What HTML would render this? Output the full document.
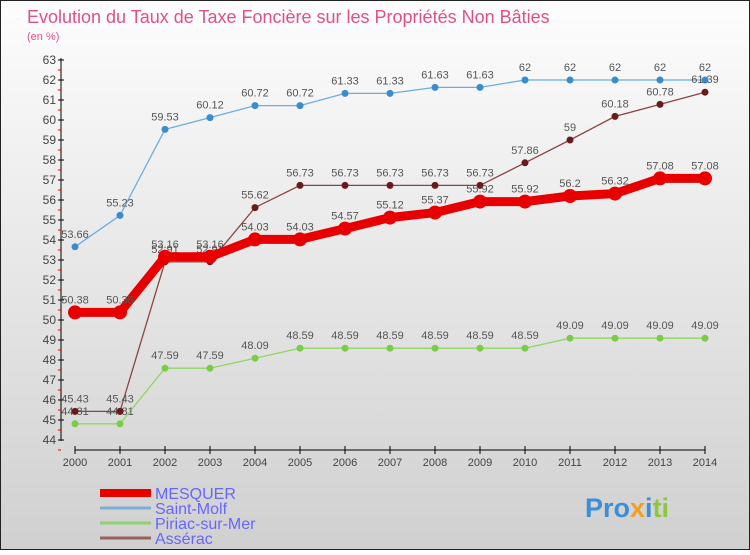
<!DOCTYPE html>
<html><head><meta charset="utf-8"><style>
body{margin:0}
svg text{font-family:"Liberation Sans",sans-serif}
</style></head><body>
<svg id="c" width="750" height="550" xmlns="http://www.w3.org/2000/svg">
<defs><linearGradient id="bg" x1="0" y1="0" x2="0" y2="1"><stop offset="0" stop-color="#fdfdfd"/><stop offset="1" stop-color="#d0d0d0"/></linearGradient></defs>
<rect x="0.5" y="0.5" width="749" height="549" fill="url(#bg)" stroke="#222"/>
<text x="27" y="23" font-size="18" fill="#e0508a">Evolution du Taux de Taxe Foncière sur les Propriétés Non Bâties</text>
<text x="27" y="40" font-size="11" fill="#e0508a">(en %)</text>
<g id="axes"></g><g id="series"></g><g id="legend"></g>
<text x="585" y="517" font-size="27" font-weight="bold" fill="#3a8fd8">Pro<tspan fill="#f0a020">x</tspan><tspan fill="#3a8fd8">i</tspan><tspan fill="#8cc83c">ti</tspan></text>
</svg>
<script>
const years=[2000,2001,2002,2003,2004,2005,2006,2007,2008,2009,2010,2011,2012,2013,2014];
const mesquer=[50.38,50.38,53.16,53.16,54.03,54.03,54.57,55.12,55.37,55.92,55.92,56.2,56.32,57.08,57.08];
const saintMolf=[53.66,55.23,59.53,60.12,60.72,60.72,61.33,61.33,61.63,61.63,62,62,62,62,62];
const piriac=[44.81,44.81,47.59,47.59,48.09,48.59,48.59,48.59,48.59,48.59,48.59,49.09,49.09,49.09,49.09];
const asserac=[45.43,45.43,52.91,52.91,55.62,56.73,56.73,56.73,56.73,56.73,57.86,59,60.18,60.78,61.39];
const yTicks=[44,45,46,47,48,49,50,51,52,53,54,55,56,57,58,59,60,61,62,63];
const NS="http://www.w3.org/2000/svg";
const X=i=>75+i*45, Y=v=>60+(63-v)*20;
function mk(t,a,p){const e=document.createElementNS(NS,t);for(const k in a)e.setAttribute(k,a[k]);p.appendChild(e);return e;}
const ax=document.getElementById('axes');
let l=mk('line',{x1:61,y1:58,x2:61,y2:441,stroke:'#000'},ax);


yTicks.forEach(v=>{
 mk('line',{x1:58,y1:Y(v),x2:64,y2:Y(v),stroke:'#000'},ax);
 mk('line',{x1:58,y1:Y(v)+10,x2:61,y2:Y(v)+10,stroke:'#e00'},ax);
 const t=mk('text',{x:56,y:Y(v)+4,'font-size':12,fill:'#444','text-anchor':'end'},ax);t.textContent=v;
 
 
});
l=mk('line',{x1:75,y1:450,x2:705,y2:450,stroke:'#000'},ax);


years.forEach((y,i)=>{
 mk('line',{x1:X(i),y1:446,x2:X(i),y2:454,stroke:'#000'},ax);
 const t=mk('text',{x:X(i),y:466,'font-size':11,fill:'#444','text-anchor':'middle'},ax);t.textContent=y;
 
 
});
const sg=document.getElementById('series');
function draw(name,vals,col,w,r,dot){
 const g=mk('g',{},sg);
 
 
 mk('polyline',{points:vals.map((v,i)=>X(i)+','+Y(v)).join(' '),fill:'none',stroke:col,'stroke-width':w},g);
 vals.forEach((v,i)=>{
  const c=mk('circle',{cx:X(i),cy:Y(v),r:r,fill:dot},g);
  
  
  const t=mk('text',{x:X(i),y:Y(v)-9,'font-size':11,fill:'#555','text-anchor':'middle'},g);t.textContent=v;
  
  
 });
}
draw('saint-molf',saintMolf,'#6aaee0',1.3,3.5,'#3a8ccc');
draw('piriac',piriac,'#8ed860',1.3,3.5,'#7acc48');
draw('asserac',asserac,'#8a4444',1.3,3.5,'#6a1a1a');
draw('mesquer',mesquer,'#e80000',9,7,'#e80000');
const lg=document.getElementById('legend');
const names=['MESQUER','Saint-Molf','Piriac-sur-Mer','Assérac'],cols=['#e80000','#7ab0d8','#90d070','#9a6060'],ws=[8,3,3,3];
names.forEach((n,i)=>{
 const y=493+i*15;
 const g=mk('g',{},lg);
 
 
 mk('line',{x1:100,y1:y,x2:151,y2:y,stroke:cols[i],'stroke-width':ws[i]},g);
 const t=mk('text',{x:155,y:y+6,'font-size':16,fill:'#6666ff'},g);t.textContent=n;
});
</script>
</body></html>
